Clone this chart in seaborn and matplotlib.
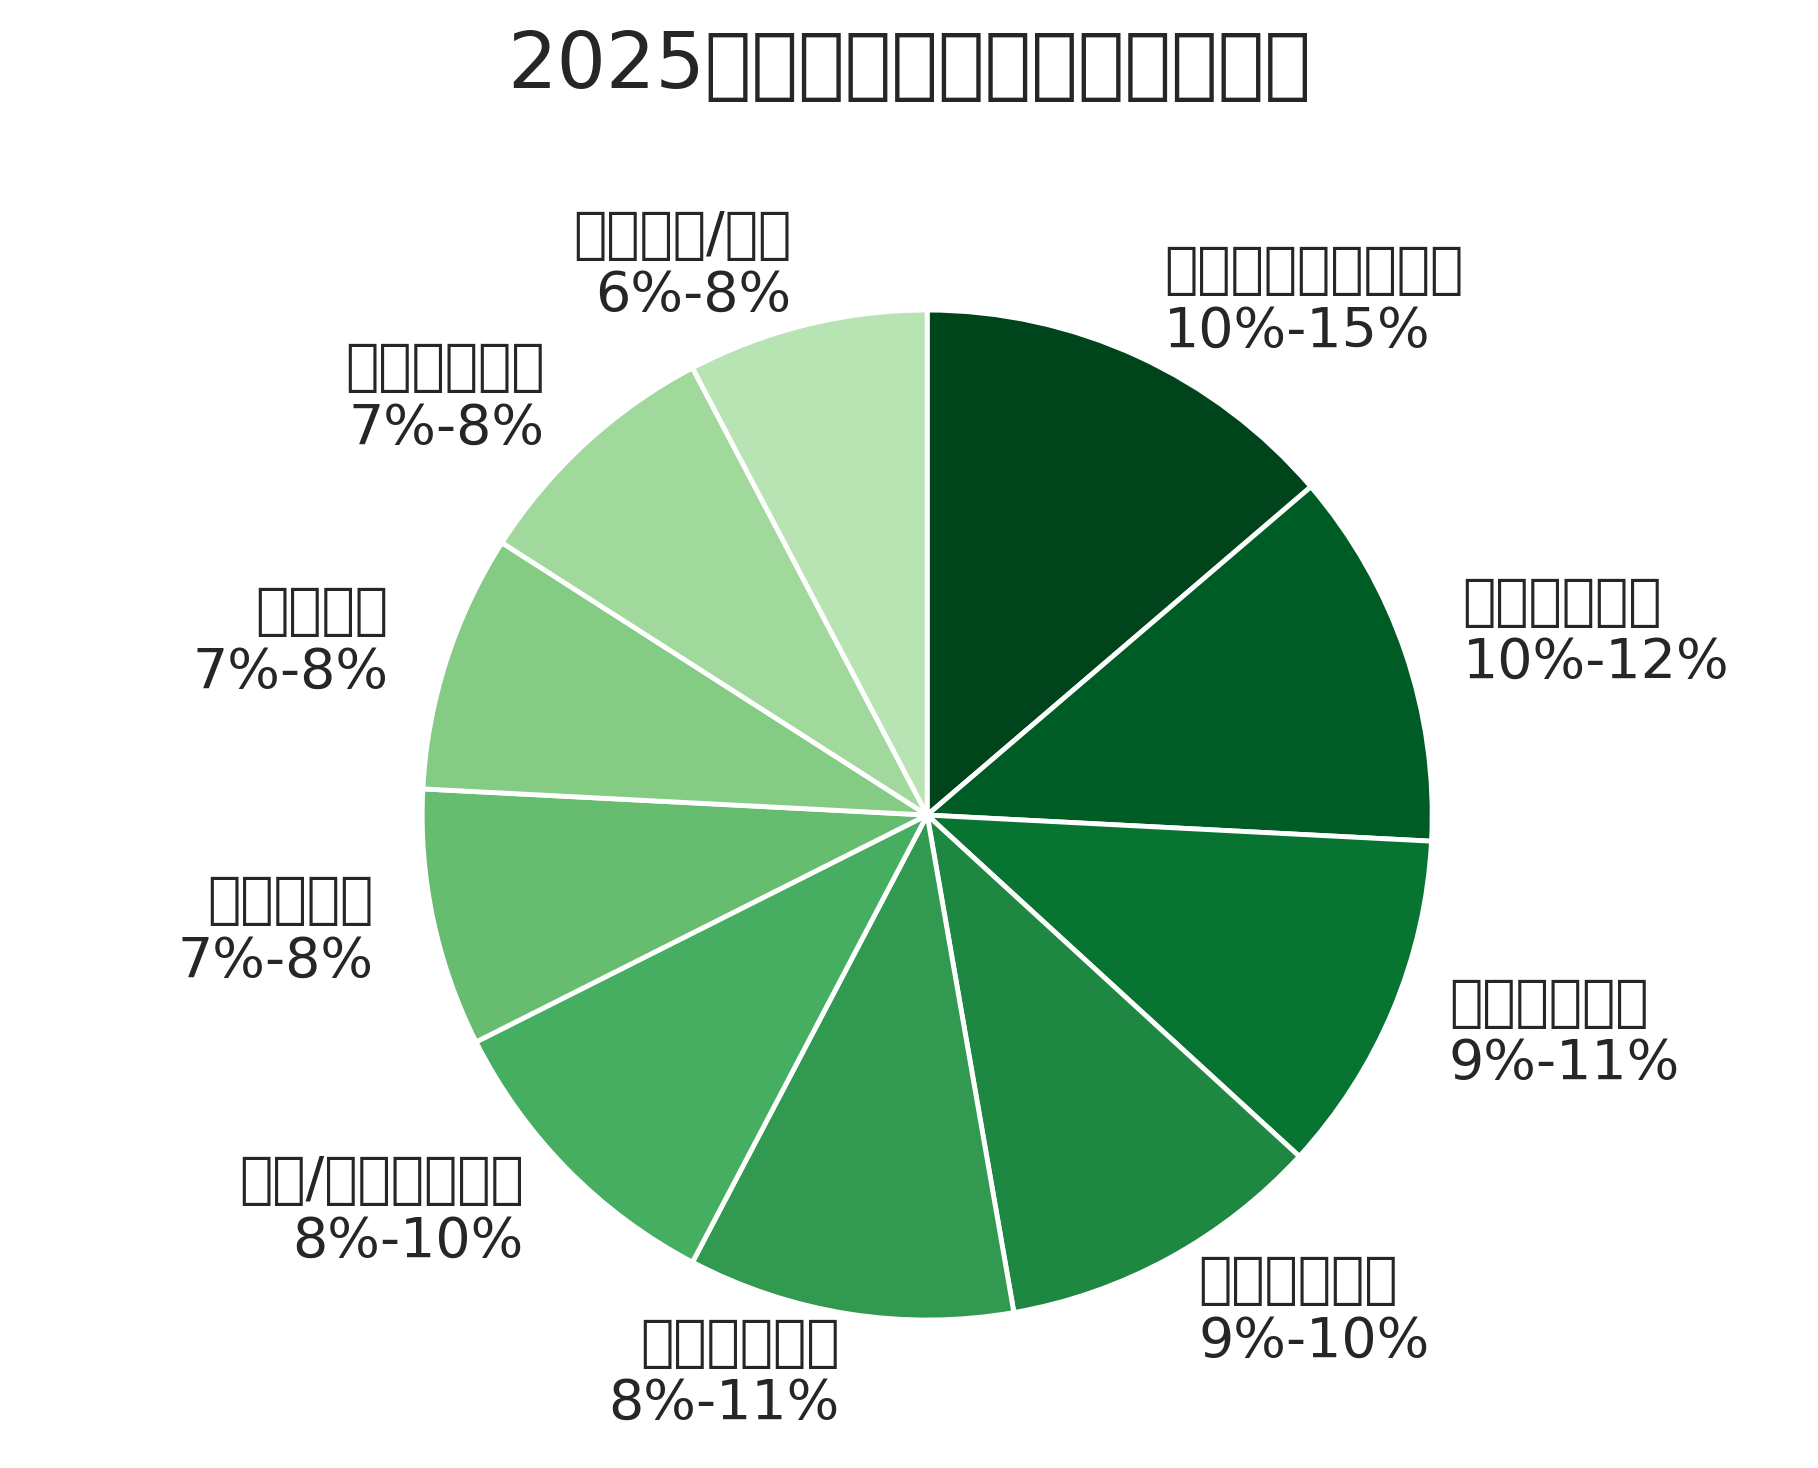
import matplotlib
matplotlib.use("Agg")
import matplotlib.pyplot as plt
import numpy as np
import seaborn as sns

# data
names = ["門窗沖煞與格局不當", "橫樑壓頂問題", "廁所位置不良", "廚房水火沖犯", "鏡子錯誤擺放",
         "走道/動線設計不良", "流動水錯置", "雜物堆積", "家具遮光阻氣", "屋角對尖/箭煞"]
ranges = ["10%-15%", "10%-12%", "9%-11%", "9%-10%", "8%-11%",
          "8%-10%", "7%-8%", "7%-8%", "7%-8%", "6%-8%"]
values = [12.5, 11, 10, 9.5, 9.5, 9, 7.5, 7.5, 7.5, 7]

plt.rcParams["font.family"] = ["Noto Sans CJK TC", "Noto Sans CJK JP", "Noto Sans CJK SC", "DejaVu Sans"]
sns.set_style("white")
cmap = plt.get_cmap("Greens")
colors = [cmap(v) for v in np.linspace(1.0, 0.3, len(values))]

fig = plt.figure(figsize=(18.18, 14.68), dpi=100)
ax = fig.add_axes([0, 0, 1, 1])
labels = [n + "\n" + r for n, r in zip(names, ranges)]
wedges, texts = ax.pie(values, labels=labels, colors=colors, startangle=90, counterclock=False,
                       labeldistance=1.12, radius=1,
                       wedgeprops={"edgecolor": "white", "linewidth": 3.5},
                       textprops={"fontsize": 40, "linespacing": 1.15})
ax.set_xlim(-1.836, 1.764)
ax.set_ylim(-1.293, 1.614)
ax.set_aspect("auto")
ax.axis("off")
fig.text(0.5, 0.955, "2025年家中十大風水禁忌重點分布", ha="center", va="center", fontsize=56)
fig.savefig("out.png", dpi=100)
